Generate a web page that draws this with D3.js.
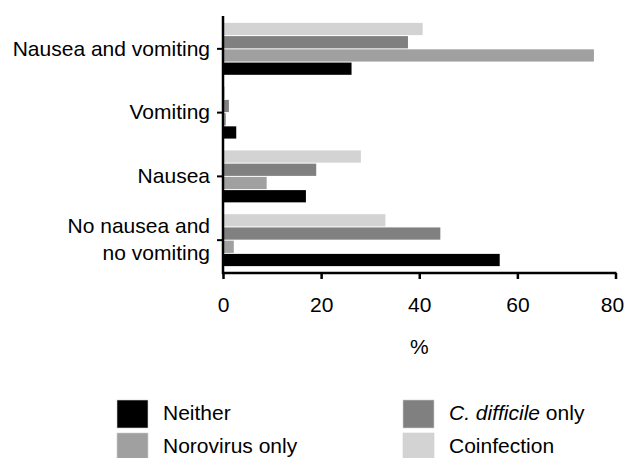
<!DOCTYPE html>
<html>
<head>
<meta charset="utf-8">
<script src="https://cdn.jsdelivr.net/npm/d3@7"></script>
<style>
  body { margin: 0; background: #fff; }
  svg text { font-family: "Liberation Sans", Arial, sans-serif; fill: #000; }
</style>
</head>
<body>
<div id="chart"></div>
<script>
var categories = ["Nausea and vomiting", "Vomiting", "Nausea", "No nausea and no vomiting"];
var categoryLines = [["Nausea and vomiting"], ["Vomiting"], ["Nausea"], ["No nausea and", "no vomiting"]];

// bar order inside each group, top to bottom
var series = ["Coinfection", "C. difficile only", "Norovirus only", "Neither"];
var seriesColors = ["#d3d3d3", "#808080", "#a0a0a0", "#000000"];

var coinfection = [40.7, 0.4, 28.1, 33.1];
var cdiffOnly   = [37.7, 1.2, 19.0, 44.3];
var norovirus   = [75.6, 0.6, 8.9, 2.2];
var neither     = [26.2, 2.7, 16.9, 56.4];
var seriesValues = [coinfection, cdiffOnly, norovirus, neither];

var xTicks = [0, 20, 40, 60, 80];

// legend order (two columns)
var legendItems = ["Neither", "Norovirus only", "C. difficile only", "Coinfection"];

(function() {
  var width = 625, height = 458;
  var left = 223, right = 615.5, top = 16, bottom = 273;

  var svg = d3.select("#chart")
    .append("svg")
    .attr("width", width)
    .attr("height", height);

  var x = d3.scaleLinear().domain([0, 80]).range([left, right]);

  var y = d3.scaleBand()
    .domain(categories)
    .range([top, bottom])
    .paddingInner(0.17)
    .paddingOuter(0.1);

  var yInner = d3.scaleBand()
    .domain(series)
    .range([0, y.bandwidth()]);

  var rows = [];
  categories.forEach(function(c, ci) {
    series.forEach(function(s, si) {
      rows.push({ cat: c, ser: s, value: seriesValues[si][ci], color: seriesColors[si] });
    });
  });

  svg.append("g")
    .selectAll("rect")
    .data(rows)
    .enter().append("rect")
    .attr("x", x(0))
    .attr("y", function(d) { return y(d.cat) + yInner(d.ser) + 0.5; })
    .attr("width", function(d) { return x(d.value) - x(0); })
    .attr("height", yInner.bandwidth() - 1)
    .attr("fill", function(d) { return d.color; });

  // x axis
  var xAxis = svg.append("g")
    .attr("transform", "translate(0," + bottom + ")")
    .call(d3.axisBottom(x).tickValues(xTicks).tickSize(6).tickPadding(18).tickSizeOuter(0));
  xAxis.select(".domain").attr("stroke-width", 2.5).attr("d", "M" + (left - 1) + ",0H" + (right + 1));
  xAxis.selectAll(".tick line").attr("stroke-width", 2.5);
  xAxis.selectAll(".tick text").attr("font-size", "21px")
    .attr("font-family", "Liberation Sans, Arial, sans-serif");
  // last label is pushed inside the picture, as in the original
  xAxis.selectAll(".tick text").filter(function(d) { return d === 80; }).attr("dx", -3.5);

  // y axis
  var yAxis = svg.append("g")
    .attr("transform", "translate(" + left + ",0)")
    .call(d3.axisLeft(y).tickSize(6).tickPadding(7).tickSizeOuter(0));
  yAxis.select(".domain").attr("stroke-width", 2.5).attr("d", "M0," + top + "V" + (bottom + 1));
  yAxis.selectAll(".tick line").attr("stroke-width", 2);
  yAxis.selectAll(".tick text").each(function(d, i) {
    var t = d3.select(this).text(null)
      .attr("font-size", "21px")
      .attr("font-family", "Liberation Sans, Arial, sans-serif");
    var lines = categoryLines[i];
    lines.forEach(function(line, li) {
      t.append("tspan")
        .attr("x", -13)
        .attr("y", (li - (lines.length - 1) / 2) * 27)
        .attr("dy", "0.32em")
        .text(line);
    });
  });

  svg.append("text")
    .attr("x", (left + right) / 2)
    .attr("y", 354)
    .attr("text-anchor", "middle")
    .attr("font-size", "21px")
    .text("%");

  // legend
  var legendPos = [[117, 400], [117, 433], [403, 400], [403, 433]];
  var legend = svg.append("g")
    .selectAll("g")
    .data(legendItems)
    .enter().append("g")
    .attr("transform", function(d, i) { return "translate(" + legendPos[i][0] + "," + legendPos[i][1] + ")"; });

  legend.append("rect")
    .attr("width", 31)
    .attr("height", 28)
    .attr("fill", function(d) { return seriesColors[series.indexOf(d)]; })
    .attr("stroke", "#cfcfcf")
    .attr("stroke-width", 0.6);

  legend.append("text")
    .attr("x", 46)
    .attr("y", 20)
    .attr("font-size", "21px")
    .each(function(d) {
      var t = d3.select(this);
      if (d === "C. difficile only") {
        t.append("tspan").attr("font-style", "italic").text("C. difficile");
        t.append("tspan").text(" only");
      } else {
        t.text(d);
      }
    });
})();
</script>
</body>
</html>
